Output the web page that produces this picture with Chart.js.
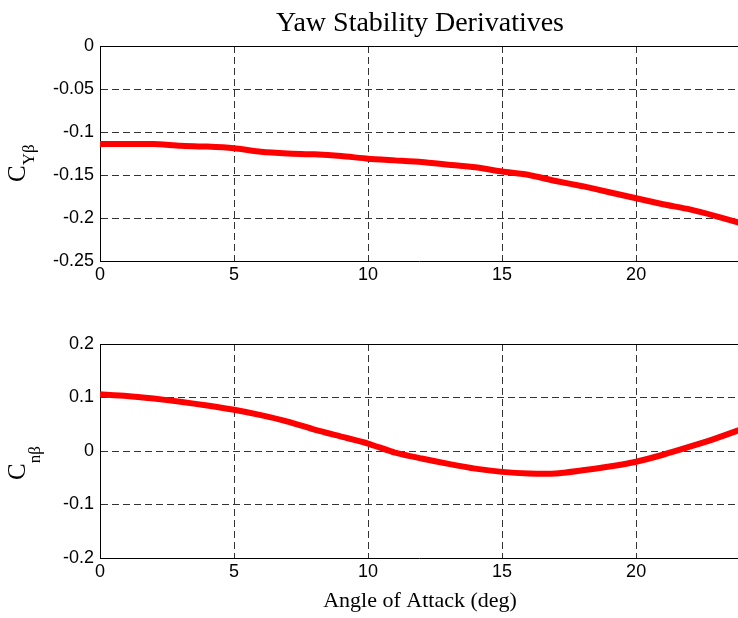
<!DOCTYPE html>
<html>
<head>
<meta charset="utf-8">
<script src="https://cdn.jsdelivr.net/npm/chart.js@4/dist/chart.umd.min.js"></script>
<style>
  html, body { margin: 0; padding: 0; background: #fff; }
  #wrap { position: relative; width: 738px; height: 618px; overflow: hidden; }
  canvas { position: absolute; left: 0; }
</style>
</head>
<body>
<div id="wrap">
  <canvas id="top" width="738" height="310" style="top:0"></canvas>
  <canvas id="bottom" width="738" height="308" style="top:310px"></canvas>
</div>
<script>
// angle of attack (deg)
const alpha = [0, 1, 2, 3, 4, 5, 6, 7, 8, 9, 10, 11, 12, 13, 14, 15, 16, 17, 18, 19, 20, 21, 22, 23, 24];
// side force derivative C_Y_beta
const cyBeta = [-0.114, -0.114, -0.114, -0.116, -0.117, -0.119, -0.123, -0.125, -0.126, -0.128, -0.131, -0.133, -0.135, -0.138, -0.141, -0.146, -0.150, -0.157, -0.163, -0.170, -0.177, -0.184, -0.190, -0.198, -0.207];
// yawing moment derivative C_n_beta
const cnBeta = [0.106, 0.103, 0.098, 0.092, 0.085, 0.077, 0.067, 0.055, 0.040, 0.027, 0.014, -0.003, -0.014, -0.024, -0.033, -0.039, -0.042, -0.042, -0.036, -0.029, -0.020, -0.007, 0.008, 0.024, 0.042];

const titleText = 'Yaw Stability Derivatives';
const xTitle = 'Angle of Attack (deg)';

const tickFont = { family: "'Liberation Sans', Arial, sans-serif", size: 18 };
const serif = "'Liberation Serif', 'DejaVu Serif', serif";

// matlab style labels: 0, -0.05, -0.1 ...
const fmtTick = (v) => String(Number(v.toFixed(3)));

// frame, title and subscripted y label
function decorations(opts) {
    return {
        id: 'decor',
        afterDraw: (chart) => {
            const { ctx, chartArea } = chart;
            ctx.save();
            ctx.strokeStyle = '#000';
            ctx.lineWidth = 1;
            ctx.beginPath();
            ctx.moveTo(chartArea.left, chartArea.top + 0.5);
            ctx.lineTo(chartArea.right, chartArea.top + 0.5);
            ctx.stroke();

            ctx.fillStyle = '#000';
            if (opts.title) {
                ctx.font = '28px ' + serif;
                ctx.textAlign = 'center';
                ctx.textBaseline = 'alphabetic';
                ctx.fillText(opts.title, 420, 31);
            }
            if (opts.xTitle) {
                ctx.font = '22px ' + serif;
                ctx.textAlign = 'center';
                ctx.textBaseline = 'alphabetic';
                ctx.fillText(opts.xTitle, 420, 297);
            }
            // rotated y label: big C with subscript
            ctx.translate(opts.labelX, opts.labelY);
            ctx.rotate(-Math.PI / 2);
            ctx.textAlign = 'left';
            ctx.textBaseline = 'alphabetic';
            ctx.font = '25px ' + serif;
            ctx.fillText('C', 0, 0);
            const w = ctx.measureText('C').width;
            ctx.font = '17px ' + serif;
            ctx.fillText(opts.sub, w, opts.subDrop);
            ctx.restore();
        }
    };
}

function makeChart(id, values, yMin, yMax, yStep, padTop, xHeight, deco) {
    return new Chart(document.getElementById(id).getContext('2d'), {
        type: 'line',
        data: {
            labels: alpha,
            datasets: [{
                data: alpha.map((a, i) => ({ x: a, y: values[i] })),
                borderColor: '#ff0000',
                borderWidth: 6,
                pointRadius: 0,
                tension: 0.2,
                fill: false
            }]
        },
        options: {
            responsive: false,
            animation: false,
            layout: { padding: { top: padTop, left: 0, right: 0, bottom: 0 } },
            plugins: { legend: { display: false }, tooltip: { enabled: false } },
            scales: {
                x: {
                    type: 'linear',
                    min: 0,
                    max: 23.8,
                    ticks: { stepSize: 5, includeBounds: false, color: '#000', font: tickFont, padding: 3, maxRotation: 0 },
                    grid: { color: '#333', lineWidth: 1, drawTicks: false },
                    border: { display: true, color: '#000', width: 1, dash: [7, 4] },
                    afterFit: (s) => { s.height = xHeight; }
                },
                y: {
                    min: yMin,
                    max: yMax,
                    ticks: { stepSize: yStep, color: '#000', font: tickFont, padding: 6, callback: fmtTick },
                    grid: { color: '#333', lineWidth: 1, drawTicks: false },
                    border: { display: true, color: '#000', width: 1, dash: [7, 4] },
                    afterFit: (s) => { s.width = 100; }
                }
            }
        },
        plugins: [deco]
    });
}

makeChart('top', cyBeta, -0.25, 0, 0.05, 46, 49,
    decorations({ title: titleText, sub: 'Yβ', subDrop: 9, labelX: 25, labelY: 182 }));
makeChart('bottom', cnBeta, -0.2, 0.2, 0.1, 34, 60,
    decorations({ xTitle: xTitle, sub: 'nβ', subDrop: 15, labelX: 25, labelY: 170 }));
</script>
</body>
</html>
